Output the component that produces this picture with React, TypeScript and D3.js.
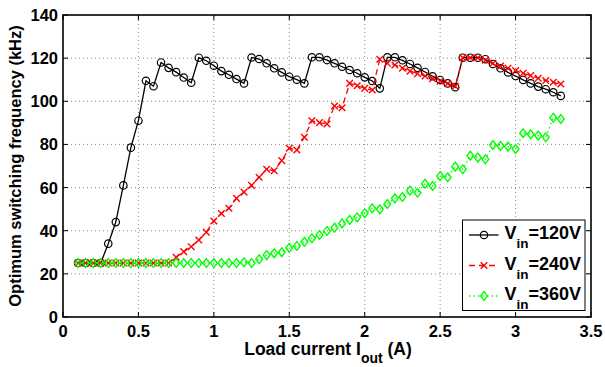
import * as d3 from "d3";
import React from "react";

// load current steps (A)
const currents = d3.range(65).map((i) => +(0.1 + i * 0.05).toFixed(2));

const fsw120 = [
  25, 25, 25, 25, 34, 44, 61, 78.5, 91, 109.5, 107, 118, 115.5, 113.5, 111, 108.6,
  120.2, 118.8, 116.5, 114, 112.3, 110.3, 108.3, 120.3, 119.6, 117.6, 115.3, 113.4,
  111.4, 110, 108.3, 120.4, 120.4, 119.1, 117.6, 116, 114.5, 113, 111.1, 109.4, 106,
  120.4, 120.4, 119, 117.3, 115.5, 113.6, 111.6, 109.9, 108.3, 106.5, 120.2, 120.2,
  120.2, 119.5, 117.3, 115.3, 113.4, 111.7, 109.9, 108.3, 106.8, 105.6, 104.2, 102.5,
];

const fsw240 = [
  25, 25, 25, 25, 25, 25, 25, 25, 25, 25, 25, 25, 25, 27.7, 30.3, 32.6, 35.7, 39.3,
  44.5, 48, 50.4, 55, 57.9, 61, 64.8, 68.5, 67.8, 72.5, 78.2, 77.4, 83.3, 91, 90.1,
  89.5, 97.8, 97, 108.3, 107.2, 106, 105.2, 119.5, 117.6, 116.8, 115.3, 114, 112.8,
  111.7, 110.5, 109.3, 108.2, 107, 120.2, 120.2, 120.2, 119, 117.6, 116.3, 115.3,
  114.2, 113, 111.9, 110.7, 109.6, 108.8, 108,
];

const fsw360 = [
  25, 25, 25, 25, 25, 25, 25, 25, 25, 25, 25, 25, 25, 25, 25, 25, 25, 25, 25, 25, 25,
  25, 25.4, 25, 26.8, 28.7, 29.5, 30, 32.1, 32.9, 34.9, 36.5, 38, 39.9, 41.4, 43.4, 45,
  46.2, 48.1, 50.4, 49.9, 52.4, 55, 55.6, 58.6, 57.6, 61.8, 60.7, 65.4, 64.8, 69.7,
  68.5, 74.8, 73.9, 73.1, 79.7, 79.3, 79, 77.9, 85.2, 84.7, 84.1, 83.3, 92.4, 91.8,
];

const xTicks = [0, 0.5, 1, 1.5, 2, 2.5, 3, 3.5];
const yTicks = [0, 20, 40, 60, 80, 100, 120, 140];
const legendLabels = ["=120V", "=240V", "=360V"];

const W = 605;
const H = 367;
const margin = { left: 63, right: 14, top: 15, bottom: 50 };
const FONT = "'Liberation Sans', Arial, Helvetica, sans-serif";

const series = [
  { values: fsw120, color: "#000000", dash: null, marker: "circle" },
  { values: fsw240, color: "#ff0000", dash: "6 4", marker: "x" },
  { values: fsw360, color: "#00ff00", dash: "1.5 3", marker: "diamond" },
];

function Marker({ kind, x, y, color }: { kind: string; x: number; y: number; color: string }) {
  if (kind === "circle") {
    return <circle cx={x} cy={y} r={3.7} fill="none" stroke={color} strokeWidth={1.2} />;
  }
  if (kind === "x") {
    const s = 3.3;
    return (
      <path
        d={`M${x - s},${y - s}L${x + s},${y + s}M${x - s},${y + s}L${x + s},${y - s}`}
        stroke={color}
        strokeWidth={1.4}
        fill="none"
      />
    );
  }
  const w = 3.4;
  const h = 4.4;
  return (
    <path
      d={`M${x},${y - h}L${x + w},${y}L${x},${y + h}L${x - w},${y}Z`}
      stroke={color}
      strokeWidth={1.4}
      fill="none"
    />
  );
}

export default function App() {
  const x = d3.scaleLinear().domain([0, 3.5]).range([margin.left, W - margin.right]);
  const y = d3.scaleLinear().domain([0, 140]).range([H - margin.bottom, margin.top]);
  const [x0, x1] = x.range();
  const [y0, y1] = y.range();

  const line = d3
    .line<number>()
    .x((_, i) => x(currents[i]))
    .y((d) => y(d));

  // legend
  const lg = { x: 462.5, y: 220, w: 122.5, h: 90.5, rowY: [235, 265.5, 296] };

  return (
    <svg
      width={W}
      height={H}
      style={{ position: "absolute", left: 0, top: 0, background: "#fff" }}
      fontFamily={FONT}
    >
      {/* grid */}
      <g stroke="#888" strokeWidth={1} strokeDasharray="1 3">
        {xTicks.slice(1, -1).map((t) => (
          <line key={t} x1={x(t)} x2={x(t)} y1={y0} y2={y1} />
        ))}
        {yTicks.slice(1, -1).map((t) => (
          <line key={t} x1={x0} x2={x1} y1={y(t)} y2={y(t)} />
        ))}
      </g>

      {/* ticks on all four sides */}
      <g stroke="#000" strokeWidth={1}>
        {xTicks.map((t) => (
          <g key={t}>
            <line x1={x(t)} x2={x(t)} y1={y0} y2={y0 - 5} />
            <line x1={x(t)} x2={x(t)} y1={y1} y2={y1 + 5} />
          </g>
        ))}
        {yTicks.map((t) => (
          <g key={t}>
            <line x1={x0} x2={x0 + 5} y1={y(t)} y2={y(t)} />
            <line x1={x1} x2={x1 - 5} y1={y(t)} y2={y(t)} />
          </g>
        ))}
      </g>

      {/* series */}
      {series.map((s, si) => (
        <g key={si}>
          <path
            d={line(s.values) || ""}
            fill="none"
            stroke={s.color}
            strokeWidth={1.3}
            strokeDasharray={s.dash || undefined}
          />
          {s.values.map((v, i) => (
            <Marker key={i} kind={s.marker} x={x(currents[i])} y={y(v)} color={s.color} />
          ))}
        </g>
      ))}

      {/* box */}
      <rect x={x0} y={y1} width={x1 - x0} height={y0 - y1} fill="none" stroke="#000" strokeWidth={1.6} />

      {/* tick labels */}
      <g fontSize={16.5} fontWeight="bold" fill="#000">
        {xTicks.map((t) => (
          <text key={t} x={x(t)} y={y0 + 20} textAnchor="middle">
            {t}
          </text>
        ))}
        {yTicks.map((t) => (
          <text key={t} x={x0 - 5} y={y(t) + 6} textAnchor="end">
            {t}
          </text>
        ))}
      </g>

      {/* axis labels */}
      <text x={328} y={355} textAnchor="middle" fontSize={17.5} fontWeight="bold">
        Load current I
        <tspan fontSize={14} dy={8}>out</tspan>
        <tspan dy={-8}> (A)</tspan>
      </text>
      <text
        transform={`translate(21,${(y0 + y1) / 2}) rotate(-90)`}
        textAnchor="middle"
        fontSize={16.5}
        fontWeight="bold"
      >
        Optimum switching frequency (kHz)
      </text>

      {/* legend */}
      <rect x={lg.x} y={lg.y} width={lg.w} height={lg.h} fill="#fff" stroke="#000" strokeWidth={1} />
      {series.map((s, i) => (
        <g key={i}>
          <line
            x1={lg.x + 6.5}
            x2={lg.x + 36}
            y1={lg.rowY[i]}
            y2={lg.rowY[i]}
            stroke={s.color}
            strokeWidth={1.3}
            strokeDasharray={s.dash || undefined}
          />
          <Marker kind={s.marker} x={lg.x + 21.5} y={lg.rowY[i]} color={s.color} />
          <text x={lg.x + 42} y={lg.rowY[i] + 4} fontSize={18} fontWeight="bold">
            V
            <tspan fontSize={13.5} dy={9}>in</tspan>
            <tspan dy={-9}>{legendLabels[i]}</tspan>
          </text>
        </g>
      ))}
    </svg>
  );
}
